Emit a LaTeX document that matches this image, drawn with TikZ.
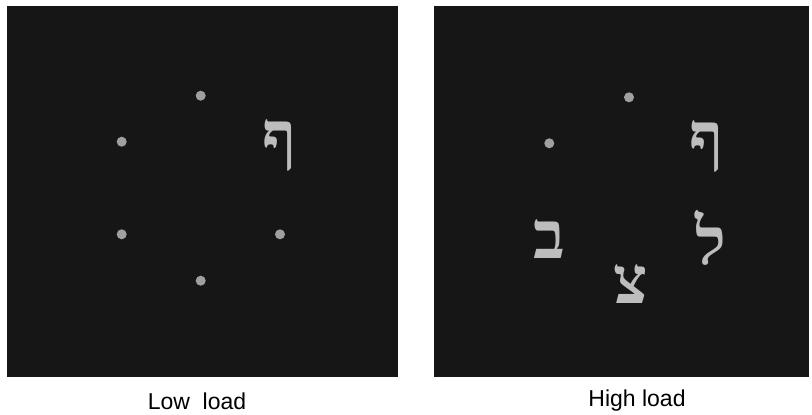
\documentclass[tikz,border=0pt]{standalone}
\usepackage{fontspec}
\setmainfont{Liberation Sans}
\newfontfamily\hebfont[Script=Hebrew]{Liberation Serif}
\TeXXeTstate=1
\definecolor{panel}{HTML}{161616}
\definecolor{letter}{HTML}{BDBDBD}
\definecolor{dotc}{HTML}{A0A0A0}
\begin{document}
\begin{tikzpicture}[x=1pt,y=-1pt,
  panelbox/.style={fill=panel,draw=none},
  stim/.style={circle,fill=dotc,inner sep=0pt,minimum width=10pt,minimum height=10pt},
  heb/.style={text=letter,inner sep=0pt,font=\hebfont\bfseries\fontsize{66}{66}\selectfont},
  caption/.style={inner sep=0pt,font=\fontsize{23}{23}\selectfont}]
\useasboundingbox[fill=white] (0,0) rectangle (812,415);
\fill[panelbox] (7,6) rectangle (397.5,376.5);
\fill[panelbox] (434,6) rectangle (809,376.5);
% low load
\node[stim] (l1) at (200.7,95.7) {};
\node[stim] (l2) at (121.7,141.7) {};
\node[stim] (l3) at (121.7,234.3) {};
\node[stim] (l4) at (280,234.3) {};
\node[stim] (l5) at (200.7,280.7) {};
\node[heb] (lp) at (280,145) {\beginR ף\endR};
% high load
\node[stim] (h1) at (629,97.3) {};
\node[stim] (h2) at (549.3,143.3) {};
\node[heb] (hp) at (707,146) {\beginR ף\endR};
\node[heb] (hl) at (711,238) {\beginR ל\endR};
\node[heb] (hz) at (631,284) {\beginR צ\endR};
\node[heb] (hb) at (549,239) {\beginR ב\endR};
% captions
\node[caption] (c1) at (197,401) {Low\ \ load};
\node[caption] (c2) at (637,401) {High load};
\end{tikzpicture}
\end{document}
